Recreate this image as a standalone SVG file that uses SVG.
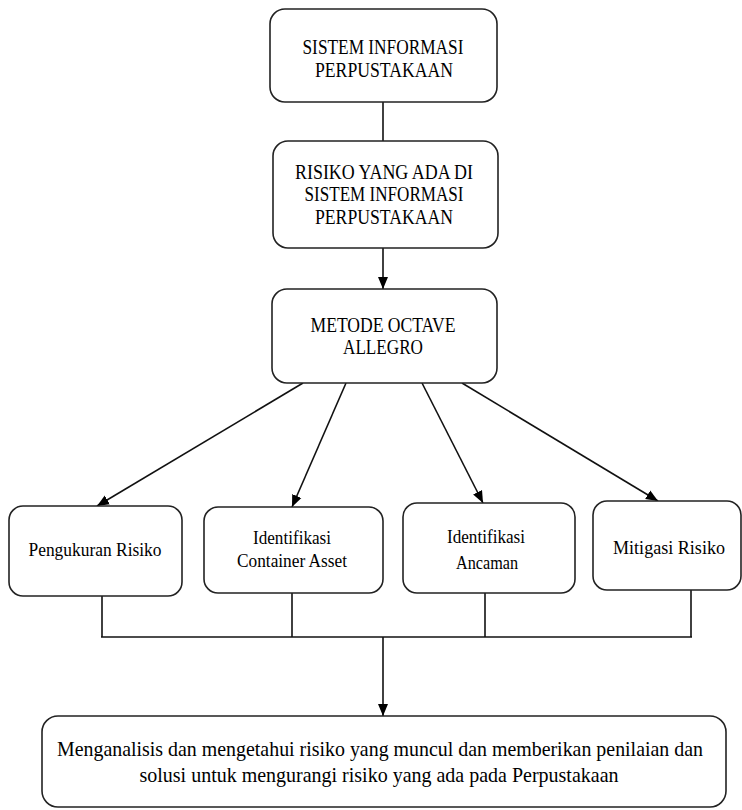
<svg xmlns="http://www.w3.org/2000/svg" width="742" height="810" viewBox="0 0 742 810">
<style>
.box{fill:#fff;stroke:#222;stroke-width:1.6}
text{font-family:"Liberation Serif","Times New Roman",serif;font-size:21px;fill:#000;text-anchor:middle}
text.s{font-size:19px}
.c{fill:none;stroke:#111;stroke-width:1.6}
</style>
<defs>
<marker id="ah" markerUnits="userSpaceOnUse" markerWidth="12" markerHeight="12" viewBox="0 0 12 12" refX="12" refY="6" orient="auto">
<path d="M0,1 L12,6 L0,11 Z" fill="#000"/>
</marker>
</defs>
<g id="connectors">
<line class="c" x1="383" y1="102" x2="383" y2="141"/>
<line class="c" x1="383" y1="248" x2="383" y2="289" marker-end="url(#ah)"/>
<line class="c" x1="303" y1="383" x2="97" y2="506" marker-end="url(#ah)"/>
<line class="c" x1="346" y1="383" x2="292" y2="507" marker-end="url(#ah)"/>
<line class="c" x1="422" y1="383" x2="483" y2="503" marker-end="url(#ah)"/>
<line class="c" x1="462" y1="383" x2="658" y2="501" marker-end="url(#ah)"/>
<line class="c" x1="102" y1="596" x2="102" y2="637"/>
<line class="c" x1="292" y1="593" x2="292" y2="637"/>
<line class="c" x1="485" y1="593" x2="485" y2="637"/>
<line class="c" x1="691" y1="590" x2="691" y2="637"/>
<line class="c" x1="101" y1="637" x2="692" y2="637"/>
<line class="c" x1="383" y1="637" x2="383" y2="716" marker-end="url(#ah)"/>
</g>
<g id="sistem">
<rect class="box" x="270" y="9" width="227" height="93" rx="15"/>
<text x="383" y="54" textLength="161" lengthAdjust="spacingAndGlyphs">SISTEM INFORMASI</text>
<text x="384" y="77" textLength="138" lengthAdjust="spacingAndGlyphs">PERPUSTAKAAN</text>
</g>
<g id="risiko">
<rect class="box" x="273" y="141" width="225" height="107" rx="15"/>
<text x="384" y="179" textLength="178" lengthAdjust="spacingAndGlyphs">RISIKO YANG ADA DI</text>
<text x="384" y="201" textLength="159" lengthAdjust="spacingAndGlyphs">SISTEM INFORMASI</text>
<text x="384" y="224" textLength="138" lengthAdjust="spacingAndGlyphs">PERPUSTAKAAN</text>
</g>
<g id="octave">
<rect class="box" x="272" y="289" width="225" height="94" rx="15"/>
<text x="383" y="332" textLength="145" lengthAdjust="spacingAndGlyphs">METODE OCTAVE</text>
<text x="383" y="354" textLength="80" lengthAdjust="spacingAndGlyphs">ALLEGRO</text>
</g>
<g id="pengukuran">
<rect class="box" x="9" y="506" width="173" height="90" rx="14"/>
<text class="s" x="95" y="556" textLength="133" lengthAdjust="spacingAndGlyphs">Pengukuran Risiko</text>
</g>
<g id="container">
<rect class="box" x="204" y="507" width="179" height="86" rx="14"/>
<text class="s" x="292" y="544" textLength="78" lengthAdjust="spacingAndGlyphs">Identifikasi</text>
<text class="s" x="292" y="567" textLength="110" lengthAdjust="spacingAndGlyphs">Container Asset</text>
</g>
<g id="ancaman">
<rect class="box" x="403" y="503" width="172" height="90" rx="14"/>
<text class="s" x="486" y="543" textLength="78" lengthAdjust="spacingAndGlyphs">Identifikasi</text>
<text class="s" x="487" y="569" textLength="62" lengthAdjust="spacingAndGlyphs">Ancaman</text>
</g>
<g id="mitigasi">
<rect class="box" x="593" y="501" width="148" height="89" rx="14"/>
<text class="s" x="669" y="554" textLength="112" lengthAdjust="spacingAndGlyphs">Mitigasi Risiko</text>
</g>
<g id="hasil">
<rect class="box" x="42" y="716" width="684" height="91" rx="16"/>
<text x="380" y="756" textLength="646" lengthAdjust="spacingAndGlyphs">Menganalisis dan mengetahui risiko yang muncul dan memberikan penilaian dan</text>
<text x="379" y="782" textLength="479" lengthAdjust="spacingAndGlyphs">solusi untuk mengurangi risiko yang ada pada Perpustakaan</text>
</g>
</svg>
